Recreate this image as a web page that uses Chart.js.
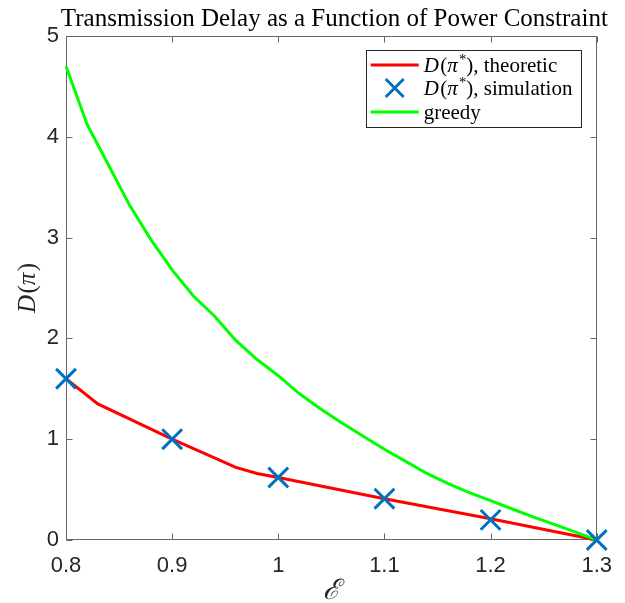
<!DOCTYPE html>
<html><head><meta charset="utf-8">
<script src="https://cdn.jsdelivr.net/npm/chart.js@4.4.1/dist/chart.umd.min.js"></script>
<style>html,body{margin:0;padding:0;background:#fff;overflow:hidden}</style>
</head><body>
<canvas id="c" width="625" height="603"></canvas>
<script>
// ---- data ----
const theoreticX = [0.8, 0.83, 0.9, 0.96, 0.98, 1.0, 1.1, 1.2, 1.3];
const theoreticY = [1.6, 1.35, 1.0, 0.72, 0.66, 0.62, 0.41, 0.21, 0.0];
const simX = [0.8, 0.9, 1.0, 1.1, 1.2, 1.3];
const simY = [1.6, 1.0, 0.62, 0.41, 0.2, 0.0];
const greedyX = [0.8, 0.82, 0.84, 0.86, 0.88, 0.9, 0.92, 0.94, 0.96, 0.98, 1.0, 1.02, 1.04,
                 1.06, 1.08, 1.1, 1.12, 1.14, 1.16, 1.18, 1.2, 1.22, 1.24, 1.26, 1.28, 1.3];
const greedyY = [4.7, 4.12, 3.72, 3.32, 2.98, 2.68, 2.42, 2.22, 1.98, 1.79, 1.63, 1.45, 1.3,
                 1.16, 1.03, 0.9, 0.78, 0.66, 0.56, 0.47, 0.39, 0.31, 0.23, 0.155, 0.078, 0.0];
const xTicks = [0.8, 0.9, 1.0, 1.1, 1.2, 1.3];
const xTickLabels = ['0.8', '0.9', '1', '1.1', '1.2', '1.3'];
const yTicks = [0, 1, 2, 3, 4, 5];
const yTickLabels = ['0', '1', '2', '3', '4', '5'];
const titleText = 'Transmission Delay as a Function of Power Constraint';
const seriesLabels = ['D(\u03C0*), theoretic', 'D(\u03C0*), simulation', 'greedy'];

const toPts = (xs, ys) => xs.map((x, i) => ({x: x, y: ys[i]}));

const AXIS = '#262626';
const BOXC = '#666666';
const SERIF = '"Liberation Serif", "Times New Roman", serif';
const SANS = '"Liberation Sans", Arial, Helvetica, sans-serif';

function drawRich(ctx, segs, x, y, size) {
  let cx = x;
  for (const s of segs) {
    const fs = s.sup ? size * 0.7 : size;
    ctx.font = (s.it ? 'italic ' : '') + fs + 'px ' + SERIF;
    ctx.fillText(s.t, cx, s.sup ? y - size * 0.38 : y);
    cx += ctx.measureText(s.t).width + (s.it ? size * 0.06 : 0);
  }
  return cx - x;
}
function richWidth(ctx, segs, size) {
  let w = 0;
  for (const s of segs) {
    const fs = s.sup ? size * 0.7 : size;
    ctx.font = (s.it ? 'italic ' : '') + fs + 'px ' + SERIF;
    w += ctx.measureText(s.t).width + (s.it ? size * 0.06 : 0);
  }
  return w;
}

const framePlugin = {
  id: 'frame',
  beforeDatasetsDraw(chart) {
    const {ctx, chartArea: a, scales} = chart;
    ctx.save();
    ctx.strokeStyle = BOXC;
    ctx.lineWidth = 1;
    const L = Math.round(a.left) + 0.5, R = Math.round(a.right) - 0.5;
    const T = Math.round(a.top) + 0.5, B = Math.round(a.bottom) - 0.5;
    ctx.strokeRect(L, T, R - L, B - T);
    const tl = 6;
    ctx.beginPath();
    for (const v of xTicks) {
      const px = Math.round(scales.x.getPixelForValue(v)) + 0.5;
      ctx.moveTo(px, B); ctx.lineTo(px, B - tl);
      ctx.moveTo(px, T); ctx.lineTo(px, T + tl);
    }
    for (const v of yTicks) {
      const py = Math.round(scales.y.getPixelForValue(v)) + 0.5;
      ctx.moveTo(L, py); ctx.lineTo(L + tl, py);
      ctx.moveTo(R, py); ctx.lineTo(R - tl, py);
    }
    ctx.stroke();
    ctx.restore();
  },
  afterDraw(chart) {
    const {ctx, chartArea: a} = chart;
    ctx.save();
    // title
    ctx.fillStyle = '#000000';
    ctx.textBaseline = 'alphabetic';
    ctx.textAlign = 'center';
    ctx.font = '25px ' + SERIF;
    ctx.fillText(titleText, (a.left + a.right) / 2 + 3, 26);
    ctx.fillStyle = AXIS;
    // x axis label (script E)
    ctx.font = 'italic 28px ' + SERIF;
    ctx.fillText('\u2130', (a.left + a.right) / 2, 599);
    // y axis label D(pi)
    ctx.textAlign = 'left';
    const ySegs = [{t: 'D', it: true}, {t: '('}, {t: '\u03C0', it: true}, {t: ')'}];
    const yw = richWidth(ctx, ySegs, 25);
    ctx.translate(35, (a.top + a.bottom) / 2);
    ctx.rotate(-Math.PI / 2);
    drawRich(ctx, ySegs, -yw / 2, 0, 25);
    ctx.restore();

    // legend
    ctx.save();
    const bx = a.right - 231, by = a.top + 14, bw = 215, bh = 77;
    ctx.fillStyle = '#ffffff';
    ctx.fillRect(bx, by, bw, bh);
    ctx.strokeStyle = AXIS;
    ctx.lineWidth = 1;
    ctx.strokeRect(Math.round(bx) + 0.5, Math.round(by) + 0.5, bw, bh);
    const rows = [by + 15, by + 38, by + 62];
    const lx0 = bx + 5, lx1 = bx + 53, tx = bx + 58;
    ctx.strokeStyle = '#ff0000'; ctx.lineWidth = 3;
    ctx.beginPath(); ctx.moveTo(lx0, rows[0]); ctx.lineTo(lx1, rows[0]); ctx.stroke();
    const cxm = (lx0 + lx1) / 2, r = 9;
    ctx.strokeStyle = '#0072BD'; ctx.lineWidth = 3;
    ctx.beginPath();
    ctx.moveTo(cxm - r, rows[1] - r); ctx.lineTo(cxm + r, rows[1] + r);
    ctx.moveTo(cxm + r, rows[1] - r); ctx.lineTo(cxm - r, rows[1] + r);
    ctx.stroke();
    ctx.strokeStyle = '#00ff00'; ctx.lineWidth = 3;
    ctx.beginPath(); ctx.moveTo(lx0, rows[2]); ctx.lineTo(lx1, rows[2]); ctx.stroke();
    ctx.fillStyle = '#000000';
    ctx.textAlign = 'left';
    ctx.textBaseline = 'alphabetic';
    const base = (lab) => {
      const m = lab.match(/^D\(\u03C0\*\)(.*)$/);
      if (m) return [{t: 'D', it: true}, {t: '('}, {t: '\u03C0', it: true}, {t: '*', sup: true}, {t: ')'}, {t: m[1]}];
      return [{t: lab}];
    };
    seriesLabels.forEach((lab, i) => {
      drawRich(ctx, base(lab), tx, rows[i] + 7, 21);
    });
    ctx.restore();
  }
};

new Chart(document.getElementById('c'), {
  type: 'line',
  data: {
    datasets: [
      {label: seriesLabels[0], data: toPts(theoreticX, theoreticY), borderColor: '#ff0000',
       backgroundColor: '#ff0000', borderWidth: 3, pointRadius: 0, tension: 0, clip: false, order: 2},
      {label: seriesLabels[1], data: toPts(simX, simY), borderColor: '#0072BD', backgroundColor: '#0072BD',
       showLine: false, pointStyle: 'crossRot', pointRadius: 14, pointBorderWidth: 3, pointHoverRadius: 14,
       clip: false, order: 0},
      {label: seriesLabels[2], data: toPts(greedyX, greedyY), borderColor: '#00ff00',
       backgroundColor: '#00ff00', borderWidth: 3, pointRadius: 0, tension: 0, clip: false, order: 1}
    ]
  },
  options: {
    responsive: false,
    animation: false,
    devicePixelRatio: 1,
    layout: {padding: {left: 0, right: 27, top: 36, bottom: 0}},
    plugins: {
      legend: {display: false},
      tooltip: {enabled: false},
      title: {display: false, text: titleText}
    },
    scales: {
      x: {
        type: 'linear', min: 0.8, max: 1.3,
        afterBuildTicks: (s) => { s.ticks = xTicks.map(v => ({value: v})); },
        afterFit: (s) => { s.height = 63; },
        grid: {display: false, drawTicks: false},
        border: {display: false},
        ticks: {
          color: AXIS, padding: 13, maxRotation: 0, autoSkip: false,
          font: {family: SANS, size: 22},
          callback: (v, i) => xTickLabels[i]
        }
      },
      y: {
        type: 'linear', min: 0, max: 5,
        afterBuildTicks: (s) => { s.ticks = yTicks.map(v => ({value: v})); },
        afterFit: (s) => { s.width = 66; },
        grid: {display: false, drawTicks: false},
        border: {display: false},
        ticks: {
          color: AXIS, padding: 7, autoSkip: false,
          font: {family: SANS, size: 22},
          callback: (v, i) => yTickLabels[i]
        }
      }
    }
  },
  plugins: [framePlugin]
});
</script>
</body></html>
